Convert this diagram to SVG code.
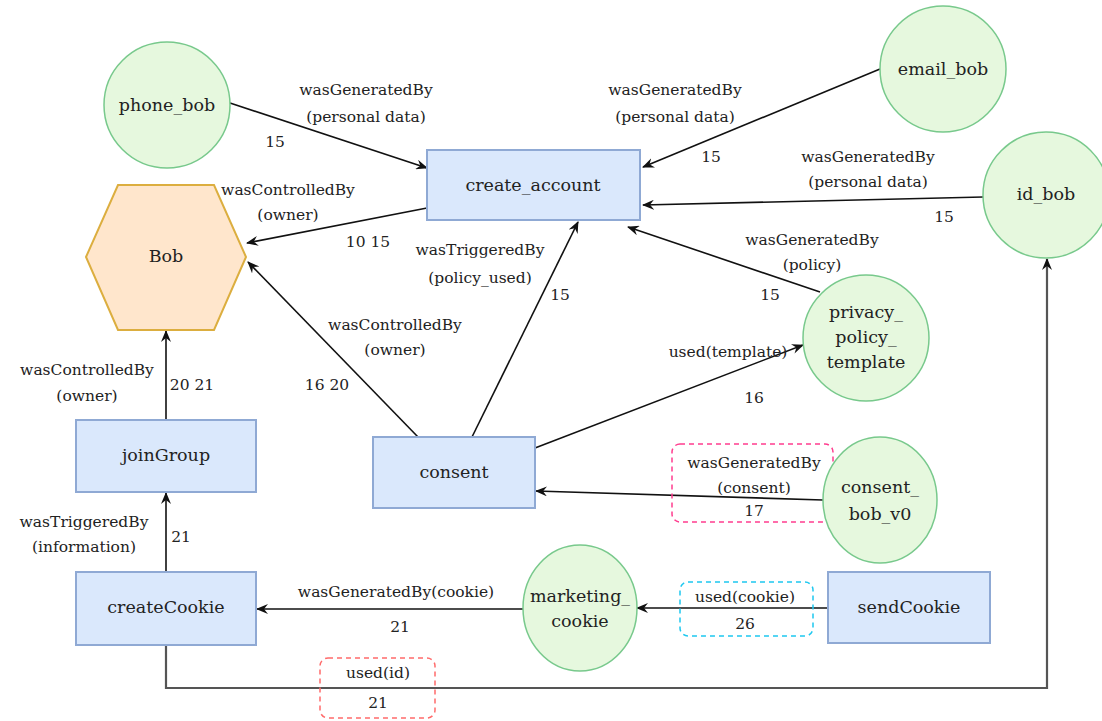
<svg xmlns="http://www.w3.org/2000/svg" width="1102" height="721" viewBox="0 0 1102 721">
<style>
.proc{fill:#dae8fc;stroke:#8fa9d4;stroke-width:2}
.ent{fill:#e6f8de;stroke:#78c98c;stroke-width:1.5}
.agent{fill:#ffe6cc;stroke:#dcae3f;stroke-width:2}
.nt{font-family:"DejaVu Serif","Liberation Serif",serif;font-size:17.5px;fill:#222;text-anchor:middle}
.et{font-family:"DejaVu Serif","Liberation Serif",serif;font-size:15.5px;fill:#222;text-anchor:middle}
.e{fill:none;stroke:#111;stroke-width:1.6;marker-end:url(#ah)}
</style>
<defs>
<marker id="ah" viewBox="0 0 12 10" refX="11" refY="5" markerWidth="12" markerHeight="10" markerUnits="userSpaceOnUse" orient="auto">
<path d="M0,0 L12,5 L0,10 L4,5 Z" fill="#111"/>
</marker>
</defs>
<rect width="1102" height="721" fill="#fff"/>
<g id="connectors">
<path class="e" d="M230,103 L427,168"/>
<path class="e" d="M880,69 L643,167"/>
<path class="e" d="M983,197 L643,205"/>
<path class="e" d="M820,292 L628,227"/>
<path class="e" d="M427,208 L247,243"/>
<path class="e" d="M472,437 L578,222"/>
<path class="e" d="M418,437 L248,262"/>
<path class="e" d="M535,448 L803,345"/>
<path class="e" d="M823,500 L536,491"/>
<path class="e" d="M166,420 L166,331"/>
<path class="e" d="M166,572 L166,493"/>
<path class="e" d="M523,609 L257,609"/>
<path class="e" d="M828,608 L637,608"/>
<path d="M166,645 L166,688 L1047,688 L1047,259" fill="none" stroke="#555" stroke-width="2.2" marker-end="url(#ah)"/>
<rect x="672" y="444" width="161" height="78" rx="8" fill="none" stroke="#ff3d8f" stroke-width="1.5" stroke-dasharray="5,4"/>
<rect x="680" y="582" width="133" height="54" rx="8" fill="none" stroke="#1ec8f0" stroke-width="1.5" stroke-dasharray="5,4"/>
<rect x="320" y="658" width="115" height="60" rx="8" fill="none" stroke="#ff6b6b" stroke-width="1.5" stroke-dasharray="5,4"/>
<text class="et" x="366" y="95">wasGeneratedBy</text>
<text class="et" x="366" y="122">(personal data)</text>
<text class="et" x="275" y="147">15</text>
<text class="et" x="675" y="95">wasGeneratedBy</text>
<text class="et" x="675" y="122">(personal data)</text>
<text class="et" x="711" y="162">15</text>
<text class="et" x="868" y="162">wasGeneratedBy</text>
<text class="et" x="868" y="187">(personal data)</text>
<text class="et" x="944" y="222">15</text>
<text class="et" x="812" y="245">wasGeneratedBy</text>
<text class="et" x="812" y="270">(policy)</text>
<text class="et" x="770" y="300">15</text>
<text class="et" x="288" y="195">wasControlledBy</text>
<text class="et" x="288" y="220">(owner)</text>
<text class="et" x="368" y="247">10  15</text>
<text class="et" x="480" y="255">wasTriggeredBy</text>
<text class="et" x="480" y="283">(policy_used)</text>
<text class="et" x="560" y="300">15</text>
<text class="et" x="395" y="330">wasControlledBy</text>
<text class="et" x="395" y="355">(owner)</text>
<text class="et" x="327" y="390">16  20</text>
<text class="et" x="728" y="357">used(template)</text>
<text class="et" x="754" y="403">16</text>
<text class="et" x="754" y="468">wasGeneratedBy</text>
<text class="et" x="754" y="493">(consent)</text>
<text class="et" x="754" y="516">17</text>
<text class="et" x="87" y="375">wasControlledBy</text>
<text class="et" x="87" y="401">(owner)</text>
<text class="et" x="192" y="390">20  21</text>
<text class="et" x="84" y="527">wasTriggeredBy</text>
<text class="et" x="84" y="552">(information)</text>
<text class="et" x="181" y="542">21</text>
<text class="et" x="396" y="597">wasGeneratedBy(cookie)</text>
<text class="et" x="400" y="632">21</text>
<text class="et" x="745" y="602">used(cookie)</text>
<text class="et" x="745" y="629">26</text>
<text class="et" x="378" y="678">used(id)</text>
<text class="et" x="378" y="708">21</text>
</g>
<g id="phone_bob"><circle class="ent" cx="167" cy="105" r="63"/><text class="nt" x="167" y="111">phone_bob</text></g>
<g id="email_bob"><circle class="ent" cx="943" cy="69" r="63"/><text class="nt" x="943" y="75">email_bob</text></g>
<g id="id_bob"><circle class="ent" cx="1046" cy="195" r="63"/><text class="nt" x="1046" y="200">id_bob</text></g>
<g id="privacy_policy_template"><circle class="ent" cx="866" cy="338" r="63"/><text class="nt" x="866" y="318">privacy_</text><text class="nt" x="866" y="343">policy_</text><text class="nt" x="866" y="368">template</text></g>
<g id="consent_bob_v0"><ellipse class="ent" cx="880" cy="500" rx="57" ry="63"/><text class="nt" x="880" y="493">consent_</text><text class="nt" x="880" y="520">bob_v0</text></g>
<g id="marketing_cookie"><ellipse class="ent" cx="580" cy="608" rx="57" ry="63"/><text class="nt" x="580" y="602">marketing_</text><text class="nt" x="580" y="627">cookie</text></g>
<g id="create_account"><rect class="proc" x="427" y="150" width="213" height="70"/><text class="nt" x="533" y="191">create_account</text></g>
<g id="Bob"><polygon class="agent" points="86,257 118,185 214,185 246,257 214,330 118,330"/><text class="nt" x="166" y="262">Bob</text></g>
<g id="joinGroup"><rect class="proc" x="76" y="420" width="180" height="72"/><text class="nt" x="166" y="461">joinGroup</text></g>
<g id="consent"><rect class="proc" x="373" y="437" width="162" height="71"/><text class="nt" x="454" y="478">consent</text></g>
<g id="createCookie"><rect class="proc" x="76" y="572" width="180" height="73"/><text class="nt" x="166" y="613">createCookie</text></g>
<g id="sendCookie"><rect class="proc" x="828" y="572" width="162" height="71"/><text class="nt" x="909" y="613">sendCookie</text></g>
</svg>
